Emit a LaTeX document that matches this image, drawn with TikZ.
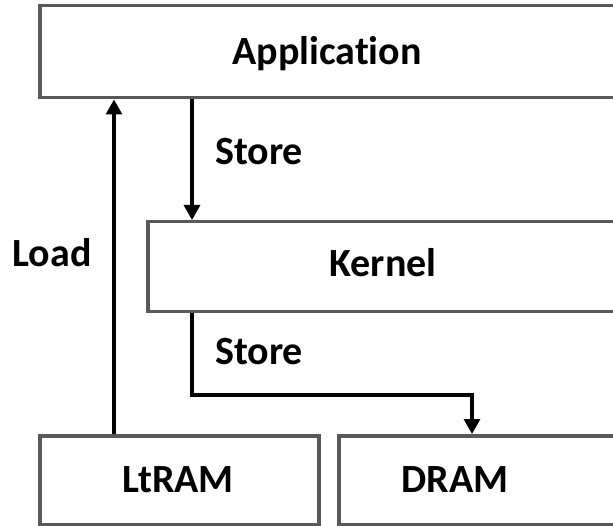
\documentclass[tikz,border=0pt]{standalone}
\usepackage{fontspec}
\setmainfont[RawFeature={-liga;-clig;-calt;-dlig}]{Carlito}
\usetikzlibrary{arrows.meta}
\begin{document}
\begin{tikzpicture}[x=1pt,y=-1pt,
  box/.style={draw=black!65, line width=3.5pt, fill=white, inner sep=0pt, anchor=north west},
  lbl/.style={font=\fontsize{40}{48}\selectfont\bfseries, inner sep=0pt, anchor=base},
  arr/.style={line width=3.3pt, -{Triangle[width=16pt,length=15pt]}}]
\clip (0,0) rectangle (613,526);
\fill[white] (0,0) rectangle (613,526);
% boxes
\node[box, minimum width=590pt, minimum height=92pt] (app) at (38,4) {};
\node[box, minimum width=480pt, minimum height=90pt] (kern) at (146,220) {};
\node[box, minimum width=279pt, minimum height=89pt] (ltram) at (38,434) {};
\node[box, minimum width=290pt, minimum height=89pt] (dram) at (337,434) {};
% labels
\node[lbl] (tapp) at (327,65) {Application};
\node[lbl] (tkern) at (383,277) {Kernel};
\node[lbl] (tltram) at (178,492) {LtRAM};
\node[lbl] (tdram) at (455,492) {DRAM};
\node[lbl, anchor=base west] (tstore1) at (215,165) {Store};
\node[lbl, anchor=base west] (tstore2) at (215,365) {Store};
\node[lbl] (tload) at (52,267) {Load};
% connectors
\coordinate (xload) at (114,0);
\coordinate (xstore) at (192,0);
\coordinate (xdram) at (472,0);
\coordinate (ybend) at (0,395);
\draw[arr] (ltram.north -| xload) -- (app.south -| xload);
\draw[arr] (app.south -| xstore) -- (kern.north -| xstore);
\draw[arr] (kern.south -| xstore) -- (xstore |- ybend) -- (xdram |- ybend) -- (dram.north -| xdram);
\end{tikzpicture}
\end{document}
